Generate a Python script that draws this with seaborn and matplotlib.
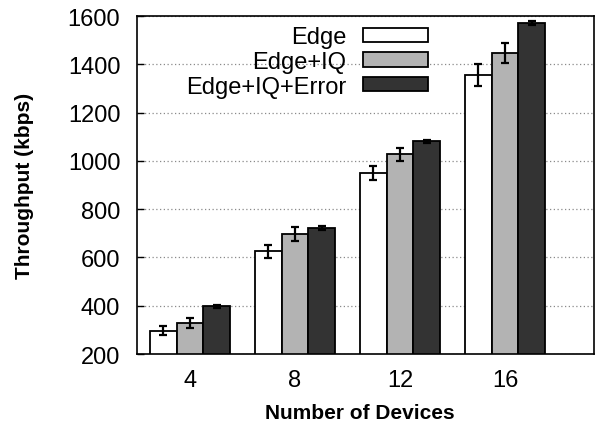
import matplotlib
matplotlib.use("Agg")
import matplotlib.pyplot as plt
from matplotlib.patches import Patch
import numpy as np
import pandas as pd
import seaborn as sns

# Throughput results per scheme and number of devices
devices = ["4", "8", "12", "16"]
schemes = ["Edge", "Edge+IQ", "Edge+IQ+Error"]
edge = [297, 625, 948, 1356]
edge_iq = [327, 697, 1027, 1448]
edge_iq_error = [397, 722, 1081, 1571]
edge_err = [19, 27, 29, 47]
edge_iq_err = [21, 30, 28, 42]
edge_iq_error_err = [5, 7, 7, 7]
yticks = [200, 400, 600, 800, 1000, 1200, 1400, 1600]

means = [edge, edge_iq, edge_iq_error]
errs = [edge_err, edge_iq_err, edge_iq_error_err]

df = pd.DataFrame({
    "Number of Devices": np.tile(devices, len(schemes)),
    "Scheme": np.repeat(schemes, len(devices)),
    "Throughput": np.concatenate(means),
    "Err": np.concatenate(errs),
})

sns.set_style("white")
plt.rcParams["font.family"] = ["Liberation Sans", "DejaVu Sans"]
plt.rcParams["text.color"] = "black"
plt.rcParams["axes.labelcolor"] = "black"
plt.rcParams["xtick.color"] = "black"
plt.rcParams["ytick.color"] = "black"

colors = ["#ffffff", "#b3b3b3", "#333333"]

fig = plt.figure(figsize=(5.95, 4.27), dpi=100)
ax = fig.add_axes([137 / 595, 1 - 355 / 427, 457 / 595, 338 / 427])

ax.grid(axis="y", color="#8a8a8a", linestyle=(0, (1, 2)), linewidth=0.9)
ax.set_axisbelow(True)

sns.barplot(
    data=df, x="Number of Devices", y="Throughput", hue="Scheme",
    order=devices, hue_order=schemes, palette=colors,
    width=0.76, errorbar=None, edgecolor="black", linewidth=1.3,
    legend=False, ax=ax, zorder=2,
)

# error bars centred on each bar
for patch_group, scheme in zip(
    [ax.patches[i * len(devices):(i + 1) * len(devices)] for i in range(len(schemes))],
    schemes,
):
    sub = df[df["Scheme"] == scheme]
    xs = [p.get_x() + p.get_width() / 2 for p in patch_group]
    ax.errorbar(xs, sub["Throughput"].values, yerr=sub["Err"].values,
                fmt="none", ecolor="black", elinewidth=1.6, capsize=2.6,
                capthick=1.6, zorder=3)

ax.set_ylim(200, 1600)
ax.set_xlim(-0.505, 3.848)
ax.set_yticks(yticks)
ax.tick_params(axis="y", direction="in", length=5, width=1.0, pad=12,
               labelsize=17, left=True, labelcolor="black")
ax.tick_params(axis="x", length=0, pad=11, labelsize=17, labelcolor="black")

for s in ax.spines.values():
    s.set_visible(True)
    s.set_color("black")
    s.set_linewidth(1.2)

ax.set_xlabel("Number of Devices", fontsize=15, fontweight="bold", color="black")
ax.set_ylabel("Throughput (kbps)", fontsize=15, fontweight="bold", color="black")
ax.xaxis.set_label_coords((360 - 137) / 457, -0.145)
ax.yaxis.set_label_coords((34 - 137) / 457, 0.5)

handles = [Patch(facecolor=c, edgecolor="black", linewidth=1.3) for c in colors]
fig.legend(handles, schemes, loc="upper right",
           bbox_to_anchor=(428 / 595, 1 - 27 / 427), bbox_transform=fig.transFigure,
           markerfirst=False, frameon=False, fontsize=17,
           handlelength=2.75, handleheight=0.55, handletextpad=0.7,
           labelspacing=0.12, borderpad=0, borderaxespad=0)

fig.savefig("out.png", dpi=100)
